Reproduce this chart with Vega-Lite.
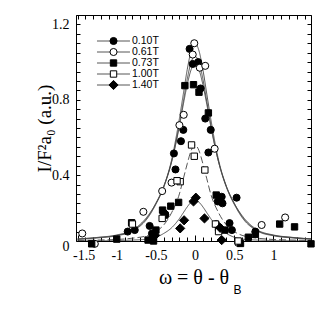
{
  "$schema": "https://vega.github.io/schema/vega-lite/v6.json",
  "width": 235,
  "height": 226,
  "autosize": {"type": "none"},
  "padding": {"left": 76, "top": 15, "right": 22, "bottom": 69},
  "config": {
    "view": {"stroke": "black", "strokeWidth": 1},
    "axis": {
      "labelFont": "Liberation Serif", "titleFont": "Liberation Serif",
      "labelColor": "black", "titleColor": "black", "tickColor": "black",
      "domain": false, "grid": false, "labelFontSize": 14, "titleFontSize": 20,
      "titleFontWeight": "normal", "tickWidth": 1
    }
  },
  "datasets": {
    "leg": [{"s":"0.10T"},{"s":"0.61T"},{"s":"0.73T"},{"s":"1.00T"},{"s":"1.40T"}],
    "curves": [
      {"s":"0.61T","x":-1.5,"y":0.06},{"s":"0.61T","x":-1.25,"y":0.068},{"s":"0.61T","x":-1.0,"y":0.08},{"s":"0.61T","x":-0.8,"y":0.105},{"s":"0.61T","x":-0.6,"y":0.18},{"s":"0.61T","x":-0.5,"y":0.25},{"s":"0.61T","x":-0.4,"y":0.34},{"s":"0.61T","x":-0.3,"y":0.48},{"s":"0.61T","x":-0.2,"y":0.70},{"s":"0.61T","x":-0.15,"y":0.83},{"s":"0.61T","x":-0.1,"y":0.96},{"s":"0.61T","x":-0.05,"y":1.06},{"s":"0.61T","x":0,"y":1.10},{"s":"0.61T","x":0.05,"y":1.06},{"s":"0.61T","x":0.1,"y":0.96},{"s":"0.61T","x":0.15,"y":0.83},{"s":"0.61T","x":0.2,"y":0.70},{"s":"0.61T","x":0.3,"y":0.48},{"s":"0.61T","x":0.4,"y":0.34},{"s":"0.61T","x":0.5,"y":0.25},{"s":"0.61T","x":0.6,"y":0.18},{"s":"0.61T","x":0.8,"y":0.105},{"s":"0.61T","x":1.0,"y":0.08},{"s":"0.61T","x":1.25,"y":0.068},{"s":"0.61T","x":1.5,"y":0.06},
      {"s":"0.10T","x":-1.5,"y":0.059},{"s":"0.10T","x":-1.25,"y":0.066},{"s":"0.10T","x":-1.0,"y":0.078},{"s":"0.10T","x":-0.8,"y":0.102},{"s":"0.10T","x":-0.6,"y":0.175},{"s":"0.10T","x":-0.5,"y":0.245},{"s":"0.10T","x":-0.4,"y":0.335},{"s":"0.10T","x":-0.3,"y":0.47},{"s":"0.10T","x":-0.2,"y":0.67},{"s":"0.10T","x":-0.15,"y":0.79},{"s":"0.10T","x":-0.1,"y":0.91},{"s":"0.10T","x":-0.05,"y":1.0},{"s":"0.10T","x":0,"y":1.03},{"s":"0.10T","x":0.05,"y":1.0},{"s":"0.10T","x":0.1,"y":0.91},{"s":"0.10T","x":0.15,"y":0.79},{"s":"0.10T","x":0.2,"y":0.67},{"s":"0.10T","x":0.3,"y":0.47},{"s":"0.10T","x":0.4,"y":0.335},{"s":"0.10T","x":0.5,"y":0.245},{"s":"0.10T","x":0.6,"y":0.175},{"s":"0.10T","x":0.8,"y":0.102},{"s":"0.10T","x":1.0,"y":0.078},{"s":"0.10T","x":1.25,"y":0.066},{"s":"0.10T","x":1.5,"y":0.059},
      {"s":"0.73T","x":-1.5,"y":0.061},{"s":"0.73T","x":-1.25,"y":0.069},{"s":"0.73T","x":-1.0,"y":0.082},{"s":"0.73T","x":-0.8,"y":0.108},{"s":"0.73T","x":-0.6,"y":0.185},{"s":"0.73T","x":-0.5,"y":0.25},{"s":"0.73T","x":-0.4,"y":0.34},{"s":"0.73T","x":-0.3,"y":0.47},{"s":"0.73T","x":-0.2,"y":0.66},{"s":"0.73T","x":-0.15,"y":0.775},{"s":"0.73T","x":-0.1,"y":0.88},{"s":"0.73T","x":-0.05,"y":0.96},{"s":"0.73T","x":0,"y":0.99},{"s":"0.73T","x":0.05,"y":0.96},{"s":"0.73T","x":0.1,"y":0.88},{"s":"0.73T","x":0.15,"y":0.775},{"s":"0.73T","x":0.2,"y":0.66},{"s":"0.73T","x":0.3,"y":0.47},{"s":"0.73T","x":0.4,"y":0.34},{"s":"0.73T","x":0.5,"y":0.25},{"s":"0.73T","x":0.6,"y":0.185},{"s":"0.73T","x":0.8,"y":0.108},{"s":"0.73T","x":1.0,"y":0.082},{"s":"0.73T","x":1.25,"y":0.069},{"s":"0.73T","x":1.5,"y":0.061},
      {"s":"1.00T","x":-1.5,"y":0.053},{"s":"1.00T","x":-1.25,"y":0.055},{"s":"1.00T","x":-1.0,"y":0.058},{"s":"1.00T","x":-0.8,"y":0.065},{"s":"1.00T","x":-0.6,"y":0.08},{"s":"1.00T","x":-0.5,"y":0.10},{"s":"1.00T","x":-0.4,"y":0.135},{"s":"1.00T","x":-0.3,"y":0.20},{"s":"1.00T","x":-0.2,"y":0.30},{"s":"1.00T","x":-0.15,"y":0.38},{"s":"1.00T","x":-0.1,"y":0.46},{"s":"1.00T","x":-0.05,"y":0.53},{"s":"1.00T","x":0,"y":0.56},{"s":"1.00T","x":0.05,"y":0.53},{"s":"1.00T","x":0.1,"y":0.46},{"s":"1.00T","x":0.15,"y":0.38},{"s":"1.00T","x":0.2,"y":0.30},{"s":"1.00T","x":0.3,"y":0.20},{"s":"1.00T","x":0.4,"y":0.135},{"s":"1.00T","x":0.5,"y":0.10},{"s":"1.00T","x":0.6,"y":0.08},{"s":"1.00T","x":0.8,"y":0.065},{"s":"1.00T","x":1.0,"y":0.058},{"s":"1.00T","x":1.25,"y":0.055},{"s":"1.00T","x":1.5,"y":0.053},
      {"s":"1.40T","x":-1.5,"y":0.05},{"s":"1.40T","x":-1.25,"y":0.051},{"s":"1.40T","x":-1.0,"y":0.052},{"s":"1.40T","x":-0.8,"y":0.055},{"s":"1.40T","x":-0.6,"y":0.06},{"s":"1.40T","x":-0.5,"y":0.07},{"s":"1.40T","x":-0.4,"y":0.09},{"s":"1.40T","x":-0.3,"y":0.12},{"s":"1.40T","x":-0.2,"y":0.169},{"s":"1.40T","x":-0.15,"y":0.20},{"s":"1.40T","x":-0.1,"y":0.231},{"s":"1.40T","x":-0.05,"y":0.256},{"s":"1.40T","x":0,"y":0.265},{"s":"1.40T","x":0.05,"y":0.256},{"s":"1.40T","x":0.1,"y":0.231},{"s":"1.40T","x":0.15,"y":0.20},{"s":"1.40T","x":0.2,"y":0.169},{"s":"1.40T","x":0.3,"y":0.12},{"s":"1.40T","x":0.4,"y":0.09},{"s":"1.40T","x":0.5,"y":0.07},{"s":"1.40T","x":0.6,"y":0.06},{"s":"1.40T","x":0.8,"y":0.055},{"s":"1.40T","x":1.0,"y":0.052},{"s":"1.40T","x":1.25,"y":0.051},{"s":"1.40T","x":1.5,"y":0.05}
    ],
    "pts": [
      {"s":"0.10T","x":-0.07,"y":1.07},{"s":"0.10T","x":-0.03,"y":0.99},{"s":"0.10T","x":0.04,"y":1.0},{"s":"0.10T","x":0.07,"y":0.86},{"s":"0.10T","x":0.13,"y":0.70},{"s":"0.10T","x":0.2,"y":0.64},{"s":"0.10T","x":0.17,"y":0.52},{"s":"0.10T","x":-0.15,"y":0.64},{"s":"0.10T","x":-0.18,"y":0.58},{"s":"0.10T","x":-0.27,"y":0.515},{"s":"0.10T","x":-0.25,"y":0.43},{"s":"0.10T","x":-0.4,"y":0.2},{"s":"0.10T","x":-0.38,"y":0.19},{"s":"0.10T","x":-0.58,"y":0.13},{"s":"0.10T","x":-0.77,"y":0.108},{"s":"0.10T","x":-0.86,"y":0.1},{"s":"0.10T","x":0.34,"y":0.285},{"s":"0.10T","x":0.29,"y":0.26},{"s":"0.10T","x":0.35,"y":0.25},{"s":"0.10T","x":0.53,"y":0.28},{"s":"0.10T","x":0.44,"y":0.145},{"s":"0.10T","x":0.47,"y":0.108},{"s":"0.10T","x":0.77,"y":0.1},{"s":"0.10T","x":-0.55,"y":0.09},
      {"s":"0.61T","x":-0.01,"y":1.10},{"s":"0.61T","x":-0.03,"y":1.04},{"s":"0.61T","x":0.06,"y":0.97},{"s":"0.61T","x":0.13,"y":0.98},{"s":"0.61T","x":-0.145,"y":0.72},{"s":"0.61T","x":-0.2,"y":0.665},{"s":"0.61T","x":0.25,"y":0.54},{"s":"0.61T","x":-0.3,"y":0.36},{"s":"0.61T","x":-0.42,"y":0.315},{"s":"0.61T","x":-0.66,"y":0.205},{"s":"0.61T","x":-1.44,"y":0.09},{"s":"0.61T","x":-1.28,"y":0.035},{"s":"0.61T","x":0.85,"y":0.135},{"s":"0.61T","x":1.15,"y":0.175},{"s":"0.61T","x":0.55,"y":0.04},{"s":"0.61T","x":0.27,"y":0.14},
      {"s":"0.73T","x":-0.13,"y":0.875},{"s":"0.73T","x":-0.02,"y":0.88},{"s":"0.73T","x":0.05,"y":0.84},{"s":"0.73T","x":0.17,"y":0.73},{"s":"0.73T","x":0.27,"y":0.294},{"s":"0.73T","x":0.3,"y":0.12},{"s":"0.73T","x":0.38,"y":0.108},{"s":"0.73T","x":0.58,"y":0.037},{"s":"0.73T","x":0.68,"y":0.07},{"s":"0.73T","x":0.77,"y":0.085},{"s":"0.73T","x":1.08,"y":0.14},{"s":"0.73T","x":1.27,"y":0.125},{"s":"0.73T","x":1.48,"y":0.035},{"s":"0.73T","x":-0.415,"y":0.214},{"s":"0.73T","x":-0.31,"y":0.235},{"s":"0.73T","x":-0.21,"y":0.255},{"s":"0.73T","x":-0.385,"y":0.188},{"s":"0.73T","x":-0.5,"y":0.108},{"s":"0.73T","x":-0.6,"y":0.055},{"s":"0.73T","x":-0.53,"y":0.05},{"s":"0.73T","x":-0.81,"y":0.147},{"s":"0.73T","x":-1.0,"y":0.06},{"s":"0.73T","x":-1.32,"y":0.035},
      {"s":"1.00T","x":-0.045,"y":0.56},{"s":"1.00T","x":-0.01,"y":0.50},{"s":"1.00T","x":0.125,"y":0.427},{"s":"1.00T","x":-0.19,"y":0.365},{"s":"1.00T","x":-0.23,"y":0.37},{"s":"1.00T","x":-0.42,"y":0.17},{"s":"1.00T","x":-0.8,"y":0.14},{"s":"1.00T","x":0.26,"y":0.14},{"s":"1.00T","x":0.3,"y":0.1},{"s":"1.00T","x":0.55,"y":0.05},
      {"s":"1.40T","x":-0.02,"y":0.26},{"s":"1.40T","x":0.01,"y":0.28},{"s":"1.40T","x":0.12,"y":0.17},{"s":"1.40T","x":-0.14,"y":0.16},{"s":"1.40T","x":-0.19,"y":0.117},{"s":"1.40T","x":-0.51,"y":0.08},{"s":"1.40T","x":-0.55,"y":0.065},{"s":"1.40T","x":0.32,"y":0.12},{"s":"1.40T","x":0.34,"y":0.055}
    ]
  },
  "layer": [
    {
      "data": {"name": "curves"},
      "mark": {"type": "line", "interpolate": "monotone", "strokeWidth": 0.9, "color": "#444", "clip": true},
      "encoding": {
        "x": {
          "field": "x", "type": "quantitative",
          "scale": {"domain": [-1.52, 1.48], "nice": false, "zero": false},
          "axis": {
            "orient": "bottom",
            "values": [-1.5,-1.4,-1.3,-1.2,-1.1,-1,-0.9,-0.8,-0.7,-0.6,-0.5,-0.4,-0.3,-0.2,-0.1,0,0.1,0.2,0.3,0.4,0.5,0.6,0.7,0.8,0.9,1,1.1,1.2,1.3,1.4,1.5],
            "labelExpr": "indexof([-1.5,-1,-0.5,0,0.5,1,1.5], datum.value) >= 0 ? '' + datum.value : ''",
            "tickSize": {"condition": {"test": "indexof([-1.5,-1,-0.5,0,0.5,1,1.5], datum.value) >= 0", "value": -6}, "value": -4},
            "labelOffset": {"condition": {"test": "datum.value == -1.5", "value": 6}, "value": 0},
            "labelPadding": 13,
            "labelFlush": false,
            "labelOverlap": false,
            "title": "ω = θ - θ",
            "titlePadding": 3
          }
        },
        "y": {
          "field": "y", "type": "quantitative",
          "scale": {"domain": [0.05, 1.25], "nice": false, "zero": false},
          "axis": {
            "orient": "left",
            "values": [0.05,0.1,0.15,0.2,0.25,0.3,0.35,0.4,0.45,0.5,0.55,0.6,0.65,0.7,0.75,0.8,0.85,0.9,0.95,1,1.05,1.1,1.15,1.2,1.25],
            "labelExpr": "datum.value == 0.05 ? '0' : (indexof([0.4,0.8,1.2], datum.value) >= 0 ? '' + datum.value : '')",
            "labelOffset": {"condition": {"test": "datum.value == 0.05", "value": 5}, "value": 0},
            "tickSize": -4,
            "labelPadding": 11,
            "labelFlush": false,
            "labelOverlap": false,
            "title": "I/F²a₀ (a.u.)",
            "titleFontSize": 19,
            "titlePadding": -3
          }
        },
        "detail": {"field": "s"},
        "strokeDash": {
          "field": "s", "type": "nominal",
          "scale": {"domain": ["0.10T","0.61T","0.73T","1.00T","1.40T"], "range": [[1,0],[1,0],[1,0],[7,3],[1,0]]},
          "legend": null
        }
      }
    },
    {
      "data": {"name": "pts"},
      "mark": {"type": "point", "filled": true, "stroke": "black", "strokeWidth": 1, "size": 50, "opacity": 1},
      "encoding": {
        "x": {
          "field": "x", "type": "quantitative",
          "axis": {
            "orient": "top",
            "values": [-1.5,-1.4,-1.3,-1.2,-1.1,-1,-0.9,-0.8,-0.7,-0.6,-0.5,-0.4,-0.3,-0.2,-0.1,0,0.1,0.2,0.3,0.4,0.5,0.6,0.7,0.8,0.9,1,1.1,1.2,1.3,1.4,1.5],
            "labels": false,
            "tickSize": -4,
            "title": "B",
            "titleFont": "Liberation Sans",
            "titleFontSize": 12,
            "titleX": 161,
            "titleY": 274,
            "titleAlign": "center",
            "titleBaseline": "middle"
          }
        },
        "y": {
          "field": "y", "type": "quantitative",
          "scale": {"domain": [0.05, 1.25], "nice": false, "zero": false},
          "axis": {
            "orient": "right",
            "values": [0.05,0.1,0.15,0.2,0.25,0.3,0.35,0.4,0.45,0.5,0.55,0.6,0.65,0.7,0.75,0.8,0.85,0.9,0.95,1,1.05,1.1,1.15,1.2,1.25],
            "labels": false,
            "tickSize": -4,
            "title": null
          }
        },
        "shape": {
          "field": "s", "type": "nominal",
          "scale": {
            "domain": ["0.10T","0.61T","0.73T","1.00T","1.40T"],
            "range": ["circle","circle","M-0.9,-0.9H0.9V0.9H-0.9Z","M-0.9,-0.9H0.9V0.9H-0.9Z","M0,-1.3L1.3,0L0,1.3L-1.3,0Z"]
          },
          "legend": null
        },
        "fill": {
          "field": "s", "type": "nominal",
          "scale": {"domain": ["0.10T","0.61T","0.73T","1.00T","1.40T"], "range": ["black","white","black","white","black"]},
          "legend": null
        }
      }
    },
    {
      "data": {"name": "leg"},
      "encoding": {
        "y": {
          "field": "s", "type": "ordinal",
          "scale": {"type": "point", "domain": ["0.10T","0.61T","0.73T","1.00T","1.40T"], "range": [26, 70], "padding": 0},
          "axis": null
        }
      },
      "layer": [
        {
          "mark": {"type": "rule", "color": "#444", "strokeWidth": 0.9},
          "encoding": {
            "x": {"datum": -1.252, "type": "quantitative", "axis": null},
            "x2": {"datum": -0.831}
          }
        },
        {
          "mark": {"type": "point", "filled": true, "stroke": "black", "strokeWidth": 1, "size": 50, "opacity": 1},
          "encoding": {
            "x": {"datum": -1.041, "type": "quantitative", "axis": null},
            "shape": {"field": "s", "type": "nominal", "legend": null},
            "fill": {"field": "s", "type": "nominal", "legend": null}
          }
        },
        {
          "mark": {"type": "text", "align": "left", "baseline": "middle", "font": "Liberation Sans", "fontSize": 10.5, "color": "black"},
          "encoding": {
            "x": {"datum": -0.805, "type": "quantitative", "axis": null},
            "text": {"field": "s"}
          }
        }
      ]
    }
  ],
  "resolve": {
    "axis": {"x": "independent", "y": "independent"},
    "scale": {"y": "independent"}
  }
}
